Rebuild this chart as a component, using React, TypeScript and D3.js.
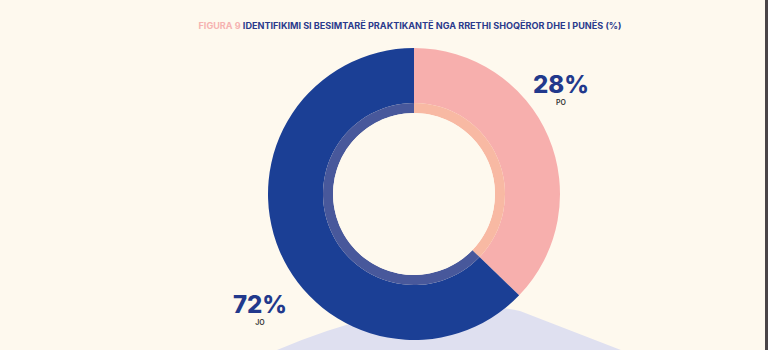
import React from "react";
import * as d3 from "d3";

const categories = ["PO", "JO"];
const percentLabels = [28, 72];
// slice sizes as they are drawn in the reference picture
const drawnShare = [37.2, 62.8];
const sliceColors = ["#f7afad", "#1b3f95"];
const innerRingColors = ["#f8b9a3", "#48589b"];
const titlePrefix = "FIGURA 9";
const titleText = "IDENTIFIKIMI SI BESIMTARË PRAKTIKANTË NGA RRETHI SHOQËROR DHE I PUNËS (%)";

const W = 768;
const H = 350;
const cx = 414;
const cy = 194;
const R = 146;
const rRingOuter = 91;
const rInner = 81;

export default function App() {
  const data = categories.map((c, i) => ({ c, v: drawnShare[i], p: percentLabels[i], i }));
  const pie = d3.pie<any>().sort(null).value((d: any) => d.v);
  const arcs = pie(data);
  const outerArc = d3.arc<any>().innerRadius(rRingOuter).outerRadius(R);
  const ringArc = d3.arc<any>().innerRadius(rInner).outerRadius(rRingOuter);
  const labelPos = [
    { x: 561, y: 93 },
    { x: 260, y: 313 },
  ];
  return (
    <svg
      width={W}
      height={H}
      style={{ position: "fixed", left: 0, top: 0, display: "block" }}
      fontFamily="Inter, 'Open Sans', sans-serif"
    >
      <rect x={0} y={0} width={W} height={H} fill="#fef9ee" />
      <path d="M 268 352 L 277 350 Q 420 290 520 311 L 626 352 Z" fill="#dfe0f0" />
      <rect x={765} y={0} width={3} height={H} fill="#4a4547" />
      <text x={410} y={29} textAnchor="middle" fontSize={8.6} fontWeight={700} textLength={423} lengthAdjust="spacingAndGlyphs">
        <tspan fill="#f6b3b1">{titlePrefix} </tspan>
        <tspan fill="#2a3a8c">{titleText}</tspan>
      </text>
      <g transform={`translate(${cx},${cy})`}>
        {arcs.map((a, i) => (
          <path key={"o" + i} d={outerArc(a) as string} fill={sliceColors[i]} />
        ))}
        {arcs.map((a, i) => (
          <path key={"r" + i} d={ringArc(a) as string} fill={innerRingColors[i]} />
        ))}
        <circle r={rInner} fill="#fef9ee" />
      </g>
      {data.map((d, i) => (
        <g key={"l" + i}>
          <text x={labelPos[i].x} y={labelPos[i].y} textAnchor="middle" fontSize={24} fontWeight={800} fill="#22398c">
            {d.p}%
          </text>
          <text x={labelPos[i].x} y={labelPos[i].y + 12} textAnchor="middle" fontSize={7} fontWeight={600} fill="#333">
            {d.c}
          </text>
        </g>
      ))}
    </svg>
  );
}
